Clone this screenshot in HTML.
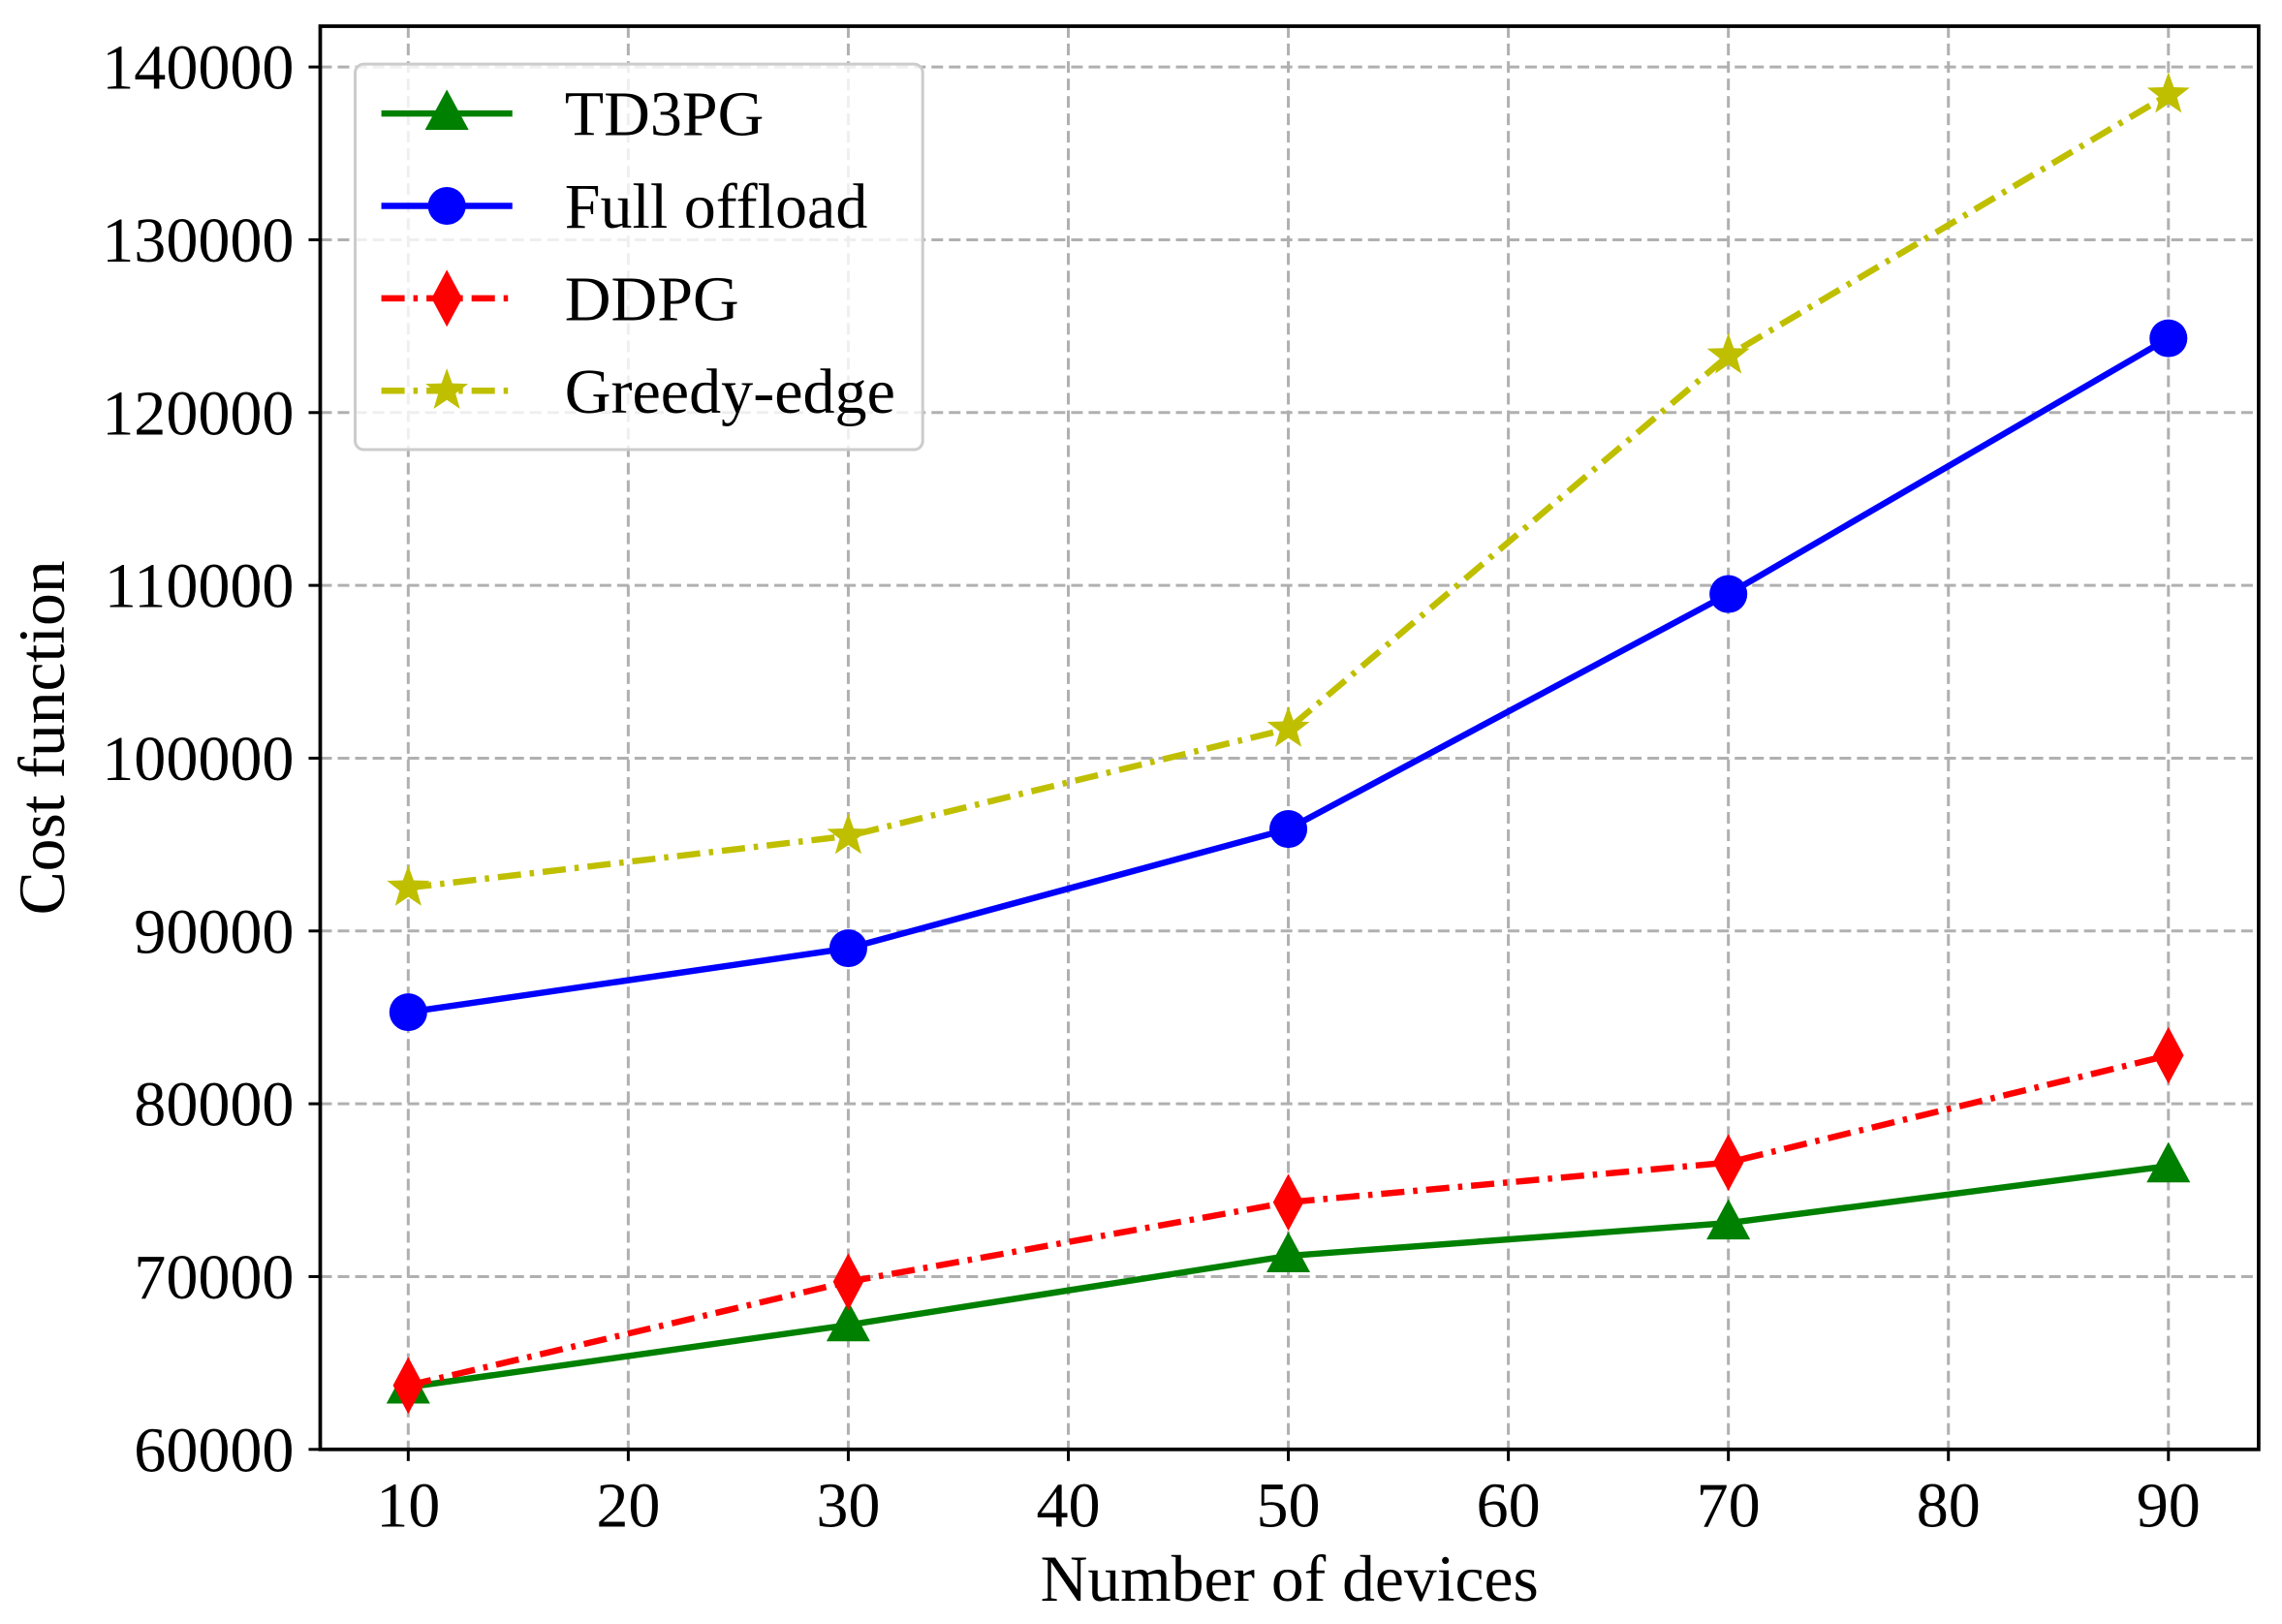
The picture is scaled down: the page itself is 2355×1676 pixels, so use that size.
<!DOCTYPE html>
<html><head><meta charset="utf-8"><style>html,body{margin:0;padding:0;background:#fff}svg{display:block}text{font-family:"Liberation Serif",serif;fill:#000}</style></head>
<body>
<svg id="chart" width="2355" height="1676" viewBox="0 0 1568 1116" xmlns="http://www.w3.org/2000/svg">
<g id="grid"></g>
<g id="series"></g>
<rect x="220" y="18" width="1332" height="978" fill="none" stroke="#000" stroke-width="2.5"/>
<g id="ticks"></g>
<text x="886" y="1100" font-size="45" text-anchor="middle">Number of devices</text>
<text transform="translate(44,507) rotate(-90)" font-size="45" text-anchor="middle">Cost function</text>
<g id="legend"></g>
</svg>
<script>
const xValues=[10,30,50,70,90];
const td3pg=[63600,67200,71200,73100,76400];
const fullOffload=[85300,89000,95900,109500,124300];
const ddpg=[63700,69700,74300,76600,82800];
const greedyEdge=[92500,95500,101700,123300,138400];
const xTicks=[10,20,30,40,50,60,70,80,90];
const yTicks=[60000,70000,80000,90000,100000,110000,120000,130000,140000];
const seriesNames=["TD3PG","Full offload","DDPG","Greedy-edge"];

const NS="http://www.w3.org/2000/svg";
const L=220,R=1552,T=18,B=996;
const xs=v=>L+(v-6)/(94.1-6)*(R-L);
const ys=v=>B-(v-60000)/(142360-60000)*(B-T);
function mk(tag,attrs,parent){const e=document.createElementNS(NS,tag);for(const k in attrs)e.setAttribute(k,attrs[k]);parent.appendChild(e);return e;}
const grid=document.getElementById('grid'),ticks=document.getElementById('ticks'),ser=document.getElementById('series'),leg=document.getElementById('legend');
xTicks.forEach(t=>{const x=xs(t);
 const g=mk('line',{x1:x,x2:x,y1:T,y2:B,stroke:'#b0b0b0','stroke-width':2,'stroke-dasharray':'8,4'},grid);
 
 
 const tk=mk('line',{x1:x,x2:x,y1:B,y2:B+8,stroke:'#000','stroke-width':2},ticks);
 
 
 const tx=mk('text',{x:x,y:B+53,'font-size':44,'text-anchor':'middle'},ticks);tx.textContent=t;
 
 
});
yTicks.forEach(t=>{const y=ys(t);
 const g=mk('line',{x1:L,x2:R,y1:y,y2:y,stroke:'#b0b0b0','stroke-width':2,'stroke-dasharray':'8,4'},grid);
 
 
 const tk=mk('line',{x1:L-8,x2:L,y1:y,y2:y,stroke:'#000','stroke-width':2},ticks);
 
 
 const tx=mk('text',{x:L-18,y:y+15,'font-size':44,'text-anchor':'end'},ticks);tx.textContent=t;
 
 
});
function marker(type,x,y,color,parent,s){
 let e;
 if(type==='tri'){e=mk('polygon',{points:`${x},${y-s*1.1} ${x-s},${y+s*0.75} ${x+s},${y+s*0.75}`,fill:color},parent);}
 else if(type==='circle'){e=mk('circle',{cx:x,cy:y,r:s,fill:color},parent);}
 else if(type==='diamond'){e=mk('polygon',{points:`${x},${y-s*1.4} ${x+s*0.75},${y} ${x},${y+s*1.4} ${x-s*0.75},${y}`,fill:color},parent);}
 else{let p=[];for(let i=0;i<10;i++){const r=i%2?s*0.45:s*1.1;const a=-Math.PI/2+i*Math.PI/5;p.push((x+r*Math.cos(a))+','+(y+r*Math.sin(a)));}e=mk('polygon',{points:p.join(' '),fill:color},parent);}
 return e;
}
const defs=[[td3pg,'#008000','tri',null,15],[fullOffload,'#0000ff','circle',null,13],[ddpg,'#ff0000','diamond','16,6,3,6',14],[greedyEdge,'#bfbf00','star','16,6,3,6',14]];
defs.forEach((d,i)=>{
 const [vals,color,m,dash,s]=d;
 const g=mk('g',{},ser);
 
 
 const pts=vals.map((v,j)=>xs(xValues[j])+','+ys(v)).join(' ');
 const pl=mk('polyline',{points:pts,fill:'none',stroke:color,'stroke-width':4.3},g);
 if(dash)pl.setAttribute('stroke-dasharray',dash);
 
 
 vals.forEach((v,j)=>{const e=marker(m,xs(xValues[j]),ys(v),color,g,s);
  
  });
 const ly=78+i*63.5;
 const lg=mk('g',{},leg);
 
 
 const ll=mk('line',{x1:262,x2:352,y1:ly,y2:ly,stroke:color,'stroke-width':4.3},lg);
 if(dash)ll.setAttribute('stroke-dasharray',dash);
 marker(m,307,ly,color,lg,s);
 const tx=mk('text',{x:388,y:ly+15,'font-size':44},lg);tx.textContent=seriesNames[i];
});
const box=mk('rect',{x:244,y:44,width:390,height:265,rx:6,fill:'#fff','fill-opacity':0.8,stroke:'#cccccc','stroke-width':2},leg);


leg.insertBefore(box,leg.firstChild);
</script>
</body></html>
